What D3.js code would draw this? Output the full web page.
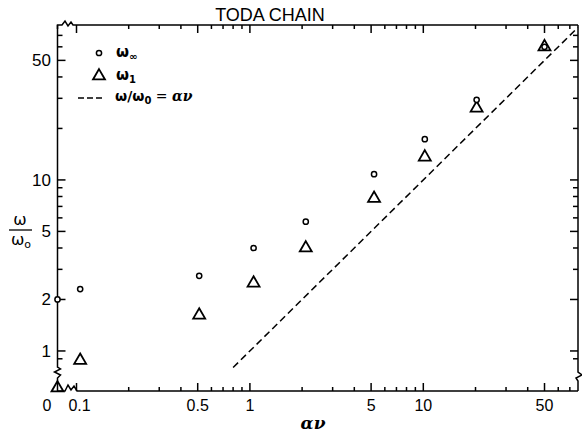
<!DOCTYPE html>
<html>
<head>
<meta charset="utf-8">
<script src="https://cdn.jsdelivr.net/npm/d3@7"></script>
<style>
body { margin: 0; background: #fff; }
text { fill: #000; }
</style>
</head>
<body>
<div id="chart"></div>
<script>
// data
var avValues = [0, 0.105, 0.51, 1.05, 2.1, 5.2, 10.2, 20.3, 50];
var omegaInf = [2.0, 2.3, 2.75, 4.0, 5.7, 10.8, 17.3, 29.4, 60];
var omegaOne = [0, 0.88, 1.62, 2.49, 4.0, 7.8, 13.6, 26.3, 60];
var lineRange = [0.8, 78];

var xTickValues = [0, 0.1, 0.5, 1, 5, 10, 50];
var xTickLabels = ["0", "0.1", "0.5", "1", "5", "10", "50"];
var xMinor = [0.2, 0.3, 0.4, 0.6, 0.7, 0.8, 0.9, 2, 3, 4, 6, 7, 8, 9, 20, 30, 40, 60, 70];
var yTickValues = [1, 2, 5, 10, 50];
var yTickLabels = ["1", "2", "5", "10", "50"];
var yMinor = [0.9, 3, 4, 6, 7, 8, 9, 20, 30, 40, 60, 70];

var width = 582, height = 434;
var pLeft = 57.5, pRight = 578, pTop = 25, pBottom = 391;

var x = d3.scaleLog().domain([0.1, 78]).range([76.5, pRight]);
var y = d3.scaleLog().domain([0.82, 80.5]).range([365.7, pTop]);
function fx(v) { return v === 0 ? pLeft : x(v); }
function fy(v) { return v === 0 ? pBottom : y(v); }

var svg = d3.select("#chart").append("svg")
    .attr("width", width)
    .attr("height", height);

var font = "'Liberation Sans', Arial, sans-serif";

// Title
svg.append("text")
    .attr("x", 270)
    .attr("y", 21)
    .attr("text-anchor", "middle")
    .style("font-family", font)
    .style("font-size", "18px")
    .text("TODA CHAIN");

var axis = svg.append("g")
    .attr("fill", "none")
    .attr("stroke", "#000")
    .attr("stroke-width", 1.5);

// left axis with break near the bottom
axis.append("path").attr("d",
    "M" + pLeft + "," + pTop + " L" + pLeft + ",367" +
    " L" + (pLeft + 3) + ",369 L" + (pLeft - 3) + ",372 L" + (pLeft + 3) + ",375 L" + pLeft + ",378" +
    " L" + pLeft + "," + pBottom);
// bottom axis with break after zero
axis.append("path").attr("d",
    "M" + pLeft + "," + pBottom + " L65," + pBottom +
    " L68,385 L71,390 L74,386 L77," + pBottom + " L" + pRight + "," + pBottom);
// top axis with break near the corner
axis.append("path").attr("d",
    "M" + pLeft + "," + (pTop + 4) + " L" + pLeft + "," + pTop + " L62," + pTop +
    " L65,21 L68,26 L71,22 L73," + pTop + " L" + pRight + "," + pTop);
// right axis with break near the bottom
axis.append("path").attr("d",
    "M" + pRight + "," + pTop + " L" + pRight + ",372" +
    " L" + (pRight + 4) + ",375 L" + (pRight - 2) + ",378 L" + pRight + ",381 L" + pRight + "," + pBottom);

// ticks
function xTicks(vals, len) {
    vals.forEach(function (v) {
        if (v === 0) return;
        axis.append("line").attr("x1", x(v)).attr("x2", x(v)).attr("y1", pBottom).attr("y2", pBottom - len);
        axis.append("line").attr("x1", x(v)).attr("x2", x(v)).attr("y1", pTop).attr("y2", pTop + len);
    });
}
function yTicks(vals, len) {
    vals.forEach(function (v) {
        axis.append("line").attr("y1", y(v)).attr("y2", y(v)).attr("x1", pLeft).attr("x2", pLeft + len);
        axis.append("line").attr("y1", y(v)).attr("y2", y(v)).attr("x1", pRight).attr("x2", pRight - len);
    });
}
xTicks(xTickValues, 8);
xTicks(xMinor, 4);
yTicks(yTickValues, 8);
yTicks(yMinor, 5);

// tick labels
svg.selectAll(".xlab")
    .data(xTickValues)
    .enter().append("text")
    .attr("class", "xlab")
    .attr("x", function (d) { return d === 0 ? 47 : x(d) + (d === 0.1 ? 3 : 0); })
    .attr("y", 411)
    .attr("text-anchor", "middle")
    .style("font-family", font)
    .style("font-size", "16px")
    .text(function (d, i) { return xTickLabels[i]; });

svg.selectAll(".ylab")
    .data(yTickValues)
    .enter().append("text")
    .attr("class", "ylab")
    .attr("x", 51)
    .attr("y", function (d) { return y(d) + 6; })
    .attr("text-anchor", "end")
    .style("font-family", font)
    .style("font-size", "17px")
    .text(function (d, i) { return yTickLabels[i]; });

// axis titles
svg.append("text")
    .attr("x", 313)
    .attr("y", 429)
    .attr("text-anchor", "middle")
    .style("font-family", "'DejaVu Serif', serif")
    .style("font-style", "italic")
    .style("font-weight", "bold")
    .style("font-size", "17px")
    .text("αν");

svg.append("text")
    .attr("x", 20)
    .attr("y", 225)
    .attr("text-anchor", "middle")
    .style("font-family", "'DejaVu Sans', sans-serif")
    .style("font-size", "16px")
    .text("ω");
svg.append("line")
    .attr("x1", 9).attr("x2", 32).attr("y1", 230).attr("y2", 230)
    .attr("stroke", "#000").attr("stroke-width", 1.3);
var den = svg.append("text")
    .attr("x", 21)
    .attr("y", 245)
    .attr("text-anchor", "middle")
    .style("font-family", "'DejaVu Sans', sans-serif")
    .style("font-size", "16px");
den.append("tspan").text("ω");
den.append("tspan").attr("dy", 3).style("font-size", "11px").text("o");

// reference line w/w0 = av
svg.append("line")
    .attr("x1", x(lineRange[0])).attr("y1", y(lineRange[0]))
    .attr("x2", x(lineRange[1])).attr("y2", y(lineRange[1]))
    .attr("stroke", "#000")
    .attr("stroke-width", 1.5)
    .attr("stroke-dasharray", "7,4");

var pts = avValues.map(function (d, i) { return { av: d, inf: omegaInf[i], one: omegaOne[i] }; });

var tri = d3.symbol().type(d3.symbolTriangle).size(62);

svg.selectAll(".tri")
    .data(pts)
    .enter().append("path")
    .attr("class", "tri")
    .attr("d", tri)
    .attr("transform", function (d) { return "translate(" + fx(d.av) + "," + (fy(d.one) - (d.one === 0 ? 3 : 0)) + ")"; })
    .attr("fill", "none")
    .attr("stroke", "#000")
    .attr("stroke-width", 1.8);

svg.selectAll(".dot")
    .data(pts)
    .enter().append("circle")
    .attr("class", "dot")
    .attr("cx", function (d) { return fx(d.av); })
    .attr("cy", function (d) { return fy(d.inf); })
    .attr("r", 2.6)
    .attr("fill", "#fff")
    .attr("stroke", "#000")
    .attr("stroke-width", 1.5);

// legend
var lg = svg.append("g");
lg.append("circle").attr("cx", 99).attr("cy", 53).attr("r", 2.6)
    .attr("fill", "none").attr("stroke", "#000").attr("stroke-width", 1.5);
lg.append("path").attr("d", tri).attr("transform", "translate(99,76)")
    .attr("fill", "none").attr("stroke", "#000").attr("stroke-width", 1.8);
lg.append("line").attr("x1", 78).attr("x2", 102).attr("y1", 98).attr("y2", 98)
    .attr("stroke", "#000").attr("stroke-width", 1.5).attr("stroke-dasharray", "6,3");

var gfont = "'DejaVu Sans', sans-serif";
var l1 = lg.append("text").attr("x", 116).attr("y", 57).style("font-family", gfont)
    .style("font-weight", "bold").style("font-size", "15px");
l1.append("tspan").text("ω");
l1.append("tspan").attr("dy", 3).style("font-size", "10px").text("∞");

var l2 = lg.append("text").attr("x", 116).attr("y", 80).style("font-family", gfont)
    .style("font-weight", "bold").style("font-size", "15px");
l2.append("tspan").text("ω");
l2.append("tspan").attr("dy", 3).style("font-size", "10px").text("1");

var l3 = lg.append("text").attr("x", 115).attr("y", 101).style("font-family", gfont)
    .style("font-weight", "bold").style("font-size", "14px");
l3.append("tspan").text("ω/ω");
l3.append("tspan").attr("dy", 3).style("font-size", "10px").text("0");
l3.append("tspan").attr("dy", -3).style("font-weight", "normal").text(" = ");
l3.append("tspan").style("font-family", "'DejaVu Serif', serif").style("font-style", "italic").text("αν");
</script>
</body>
</html>
